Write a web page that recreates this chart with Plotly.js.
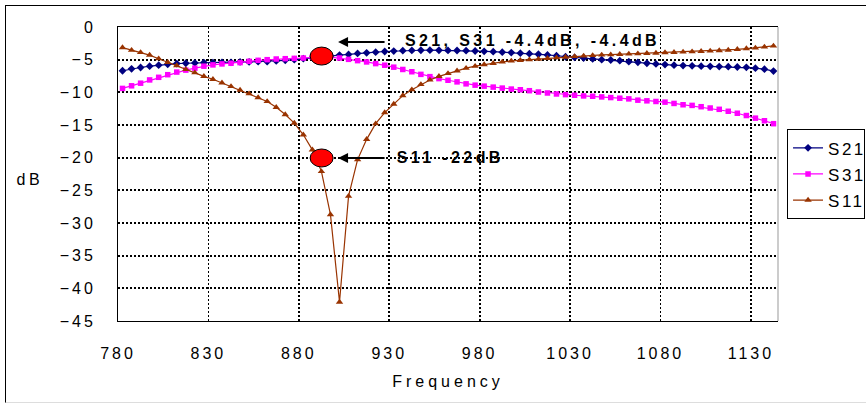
<!DOCTYPE html>
<html>
<head>
<meta charset="utf-8">
<script src="https://cdn.plot.ly/plotly-3.0.1.min.js"></script>
<style>
  html, body { margin: 0; padding: 0; background: #fff; }
  #wrap { position: relative; width: 866px; height: 404px; overflow: hidden; }
  #chart { position: absolute; left: 0; top: 0; width: 866px; height: 404px; }
  #frame { position: absolute; left: 5px; top: 5px; width: 880px; height: 396px;
           border-left: 1px solid #000; border-top: 1px solid #000; border-bottom: 1px solid #ddd;
           pointer-events: none; }
  #chart .xtick text, #chart .ytick text { letter-spacing: 3px; }
  #chart .xtitle { letter-spacing: 4px; }
  #chart .annotation-text { letter-spacing: 3.4px; }
  #chart .legendtext { letter-spacing: 2.5px; }
</style>
</head>
<body>
<div id="wrap">
  <div id="chart"></div>
  <div id="frame"></div>
</div>
<script>
// Frequencies (MHz)
const freq = [782.5,787.5,792.5,797.5,802.5,807.5,812.5,817.5,822.5,827.5,
  832.5,837.5,842.5,847.5,852.5,857.5,862.5,867.5,872.5,877.5,
  882.5,887.5,892.5,897.5,902.5,907.5,912.5,917.5,922.5,927.5,
  932.5,937.5,942.5,947.5,952.5,957.5,962.5,967.5,972.5,977.5,
  982.5,987.5,992.5,997.5,1002.5,1007.5,1012.5,1017.5,1022.5,1027.5,
  1032.5,1037.5,1042.5,1047.5,1052.5,1057.5,1062.5,1067.5,1072.5,1077.5,
  1082.5,1087.5,1092.5,1097.5,1102.5,1107.5,1112.5,1117.5,1122.5,1127.5,
  1132.5,1137.5,1142.5];

const s21 = [-6.7,-6.4,-6.2,-6.0,-5.85,-5.7,-5.6,-5.55,-5.5,-5.45,
  -5.45,-5.4,-5.4,-5.35,-5.35,-5.3,-5.3,-5.2,-5.1,-5.0,
  -4.85,-4.7,-4.5,-4.4,-4.3,-4.2,-4.05,-3.95,-3.85,-3.75,
  -3.68,-3.62,-3.58,-3.56,-3.55,-3.56,-3.58,-3.6,-3.63,-3.67,
  -3.72,-3.78,-3.85,-3.92,-4.0,-4.08,-4.17,-4.27,-4.4,-4.55,
  -4.65,-4.75,-4.88,-5.0,-5.05,-5.15,-5.3,-5.4,-5.55,-5.65,
  -5.75,-5.85,-5.9,-5.95,-6.0,-6.02,-6.05,-6.08,-6.12,-6.17,
  -6.3,-6.45,-6.75];

const s31 = [-9.4,-9.0,-8.6,-8.1,-7.7,-7.3,-6.9,-6.6,-6.3,-6.0,
  -5.8,-5.65,-5.55,-5.45,-5.25,-5.1,-5.0,-4.9,-4.85,-4.8,
  -4.75,-4.6,-4.5,-4.6,-4.75,-4.95,-5.15,-5.35,-5.6,-5.85,
  -6.15,-6.5,-6.85,-7.25,-7.6,-7.9,-8.15,-8.4,-8.7,-8.9,
  -9.05,-9.2,-9.35,-9.5,-9.6,-9.75,-9.95,-10.1,-10.25,-10.35,
  -10.45,-10.55,-10.6,-10.7,-10.8,-10.9,-11.0,-11.2,-11.3,-11.4,
  -11.5,-11.7,-11.9,-12.0,-12.2,-12.4,-12.6,-12.9,-13.2,-13.55,
  -13.95,-14.35,-14.8];

const s11 = [-3.15,-3.55,-3.9,-4.3,-4.85,-5.4,-5.9,-6.5,-7.0,-7.55,
  -8.0,-8.55,-9.1,-9.65,-10.2,-10.8,-11.4,-12.3,-13.4,-14.7,
  -16.5,-18.8,-22.1,-28.7,-42.1,-25.9,-20.3,-17.2,-14.8,-13.1,
  -11.8,-10.5,-9.6,-8.8,-8.1,-7.55,-7.1,-6.7,-6.3,-6.0,
  -5.75,-5.55,-5.35,-5.2,-5.1,-5.0,-4.9,-4.8,-4.7,-4.6,
  -4.5,-4.43,-4.35,-4.28,-4.23,-4.18,-4.13,-4.08,-4.03,-3.98,
  -3.92,-3.87,-3.82,-3.77,-3.72,-3.67,-3.6,-3.52,-3.42,-3.3,
  -3.2,-3.05,-2.9];

const xTicks = [780, 830, 880, 930, 980, 1030, 1080, 1130];
const yTicks = [0, -5, -10, -15, -20, -25, -30, -35, -40, -45];

// annotation anchors
const markS2131 = {x: 892.6, y: -4.45};
const markS11 = {x: 892.6, y: -20.05};
const arrowHeadX = 901.7;
const label1X = 1009.5, label1Y = -2.05, arrow1Y = -2.3;
const label2X = 963.8, label2Y = -19.9, arrow2Y = -20.05;

const font = "'Liberation Sans', Arial, sans-serif";

const traces = [
  {x: freq, y: s21, name: 'S21', type: 'scatter', mode: 'lines+markers', legendgroup: 'a',
   line: {color: '#000080', width: 1.2}, marker: {symbol: 'diamond', size: 6, color: '#000080'}},
  {x: freq, y: s31, name: 'S31', type: 'scatter', mode: 'lines+markers', legendgroup: 'b',
   line: {color: '#FF00FF', width: 1.2}, marker: {symbol: 'square', size: 5.5, color: '#FF00FF'}},
  {x: freq, y: s11, name: 'S11', type: 'scatter', mode: 'lines+markers', legendgroup: 'c',
   line: {color: '#993300', width: 1.2}, marker: {symbol: 'triangle-up', size: 6.5, color: '#993300'}}
];

const circle = (c) => ({type: 'circle', xref: 'x', yref: 'y', xsizemode: 'pixel', ysizemode: 'pixel',
  xanchor: c.x, yanchor: c.y, x0: -11.5, x1: 11.5, y0: -9, y1: 9,
  fillcolor: '#FF0000', line: {color: '#000', width: 1}, layer: 'above'});

const layout = {
  width: 866, height: 404,
  margin: {l: 118, r: 88, t: 27, b: 83, autoexpand: false},
  paper_bgcolor: '#fff', plot_bgcolor: '#fff',
  font: {family: font, size: 16, color: '#000'},
  showlegend: true,
  legend: {x: 1.0137, y: 0.652, xanchor: 'left', yanchor: 'top',
    bordercolor: '#000', borderwidth: 1, bgcolor: '#fff',
    font: {family: font, size: 17, color: '#000'}, tracegroupgap: 1, traceorder: 'grouped'},
  xaxis: {range: [780, 1145], tickvals: xTicks, ticktext: xTicks.map(String),
    showgrid: true, gridcolor: '#000', gridwidth: 1.8, griddash: '2px,2px',
    showline: true, linecolor: '#000', linewidth: 1, mirror: true,
    ticks: '', ticklabelstandoff: 18, zeroline: false,
    tickfont: {family: font, size: 16, color: '#000'},
    title: {text: 'Frequency', font: {family: font, size: 16, color: '#000'}, standoff: 14}},
  yaxis: {range: [-45, 0], tickvals: yTicks, ticktext: yTicks.map(v => v === 0 ? '0' : '\u2212' + Math.abs(v)),
    showgrid: true, gridcolor: '#000', gridwidth: 1.8, griddash: '2px,2px',
    showline: true, linecolor: '#000', linewidth: 1, mirror: false,
    ticks: '', ticklabelstandoff: 18, zeroline: false,
    tickfont: {family: font, size: 16, color: '#000'}},
  shapes: [
    {type: 'line', xref: 'paper', yref: 'paper', x0: 1, x1: 1, y0: 0, y1: 1, line: {color: '#999', width: 1}},
    circle(markS2131), circle(markS11)
  ],
  annotations: [
    {xref: 'paper', yref: 'paper', x: -0.1335, y: 0.482, text: 'dB', showarrow: false,
     xanchor: 'center', yanchor: 'middle', font: {family: font, size: 16, color: '#000'}},
    {xref: 'x', yref: 'y', x: label1X, y: label1Y, text: 'S21, S31 -4.4dB, -4.4dB', showarrow: false,
     xanchor: 'center', yanchor: 'middle', font: {family: font, size: 16, color: '#000', weight: 'bold'}},
    {xref: 'x', yref: 'y', x: label2X, y: label2Y, text: 'S11 -22dB', showarrow: false,
     xanchor: 'center', yanchor: 'middle', font: {family: font, size: 16, color: '#000', weight: 'bold'}},
    {xref: 'x', yref: 'y', x: arrowHeadX, y: arrow1Y, ax: 48, ay: 0, text: '', showarrow: true,
     arrowhead: 2, arrowsize: 1, arrowwidth: 2, arrowcolor: '#000'},
    {xref: 'x', yref: 'y', x: arrowHeadX, y: arrow2Y, ax: 48, ay: 0, text: '', showarrow: true,
     arrowhead: 2, arrowsize: 1, arrowwidth: 2, arrowcolor: '#000'}
  ]
};

Plotly.newPlot('chart', traces, layout, {staticPlot: true, displayModeBar: false});
</script>
</body>
</html>
